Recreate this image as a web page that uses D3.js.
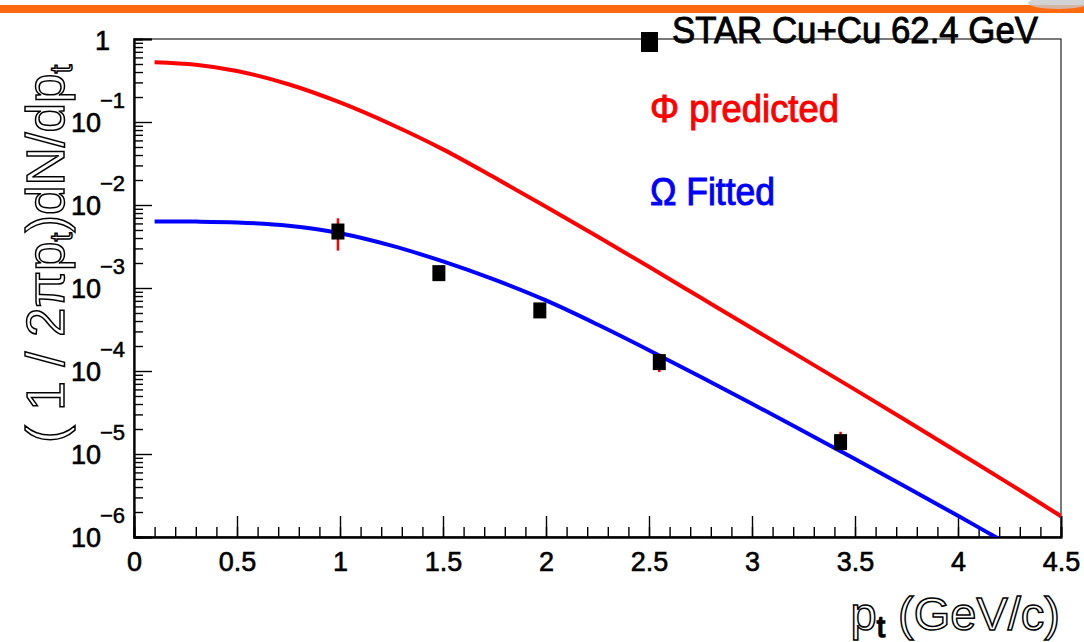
<!DOCTYPE html>
<html lang="en">
    <head>
        <meta charset="utf-8">
        <title>STAR Cu+Cu 62.4 GeV spectra</title>
        <script src="https://d3js.org/d3.v7.min.js"></script>
        <style type="text/css">
            body { margin: 0; background: #fff; }
            text { font-family: "Liberation Sans", Arial, sans-serif; }
        </style>
    </head>
    <body>
        <svg id="spectra" width="1084" height="642"></svg>
        <script>
            // phi predicted curve (red)
            var phiPt  = [0.1, 0.3, 0.5, 0.75, 1.0, 1.25, 1.5, 1.75, 2.0, 2.25, 2.5, 2.75, 3.0, 3.25, 3.5, 3.75, 4.0, 4.25, 4.5];
            var phiVal = [0.525, 0.490, 0.412, 0.285, 0.172, 0.0933, 0.0468, 0.0214, 9.55e-3, 4.17e-3, 1.80e-3,
                          7.67e-4, 3.27e-4, 1.40e-4, 5.96e-5, 2.51e-5, 1.05e-5, 4.37e-6, 1.78e-6];

            // omega fitted curve (blue)
            var omegaPt  = [0.1, 0.3, 0.5, 0.75, 1.0, 1.25, 1.5, 1.75, 2.0, 2.25, 2.5, 2.75, 3.0, 3.25, 3.5, 3.75, 4.0, 4.25];
            var omegaVal = [6.31e-3, 6.31e-3, 6.17e-3, 5.62e-3, 4.57e-3, 3.24e-3, 2.09e-3, 1.26e-3, 7.08e-4, 3.63e-4,
                            1.78e-4, 8.51e-5, 4.03e-5, 1.88e-5, 8.71e-6, 3.98e-6, 1.80e-6, 8.04e-7];

            // STAR data points with error bars
            var starPt    = [0.99, 1.48, 1.97, 2.55, 3.43];
            var starVal   = [4.79e-3, 1.51e-3, 5.37e-4, 1.28e-4, 1.39e-5];
            var starErrLo = [2.82e-3, 1.40e-3, 4.90e-4, 9.70e-5, 1.20e-5];
            var starErrHi = [6.92e-3, 1.62e-3, 5.80e-4, 1.45e-4, 1.85e-5];

            var xMajor = [0, 0.5, 1, 1.5, 2, 2.5, 3, 3.5, 4, 4.5];
            var xMinor = d3.range(0, 46).map(function(i) { return i / 10; });
            var yDecades = [1e-6, 1e-5, 1e-4, 1e-3, 1e-2, 1e-1, 1];
            var yExponents = ['6', '5', '4', '3', '2', '1', ''];

            var svg = d3.select('#spectra');
            var mLeft = 134, mRight = 1061, mTop = 39, mBottom = 537;

            var xScale = d3.scaleLinear().domain([0, 4.5]).range([mLeft, mRight]);
            var yScale = d3.scaleLog().domain([1e-6, 1]).range([mBottom, mTop]);

            //orange slide bar on top
            svg.append('rect')
               .attr('x', 0).attr('y', 5)
               .attr('width', 1084).attr('height', 8)
               .attr('fill', '#ff6a10');
            svg.append('ellipse')
               .attr('cx', 1058).attr('cy', 3)
               .attr('rx', 30).attr('ry', 6)
               .attr('fill', '#c8c8c8').attr('opacity', 0.8);

            //frame
            svg.append('rect')
               .attr('x', mLeft).attr('y', mTop)
               .attr('width', mRight - mLeft).attr('height', mBottom - mTop)
               .attr('fill', 'none')
               .attr('stroke', '#222')
               .attr('stroke-width', 1.2);

            //x axis, ticks pointing inwards
            var xMinorAxis = d3.axisBottom(xScale)
                               .tickValues(xMinor)
                               .tickSize(-10)
                               .tickFormat('');
            var xAxis = d3.axisBottom(xScale)
                          .tickValues(xMajor)
                          .tickSize(-21)
                          .tickPadding(15)
                          .tickFormat(function(d) { return d; });

            svg.append('g')
               .attr('transform', 'translate(0,' + mBottom + ')')
               .call(xMinorAxis);
            var gx = svg.append('g')
               .attr('transform', 'translate(0,' + mBottom + ')')
               .call(xAxis);
            gx.selectAll('text')
              .attr('font-size', 27)
              .attr('font-family', '"Liberation Sans", Arial, sans-serif')
              .attr('fill', '#000')
              .attr('stroke', '#000')
              .attr('stroke-width', 0.6);

            //y axis, log decades plus minor ticks
            var yMinor = [];
            yDecades.slice(0, -1).forEach(function(dec) {
                for (var k = 2; k <= 9; k++) yMinor.push(dec * k);
            });
            var yMinorAxis = d3.axisLeft(yScale)
                               .tickValues(yMinor)
                               .tickSize(-9)
                               .tickFormat('');
            var yAxis = d3.axisLeft(yScale)
                          .tickValues(yDecades)
                          .tickSize(-18)
                          .tickFormat('');

            svg.append('g')
               .attr('transform', 'translate(' + mLeft + ',0)')
               .call(yMinorAxis);
            svg.append('g')
               .attr('transform', 'translate(' + mLeft + ',0)')
               .call(yAxis);

            svg.selectAll('.domain')
               .attr('stroke', '#000')
               .attr('stroke-width', 1.8);
            svg.selectAll('.tick line')
               .attr('stroke', '#000')
               .attr('stroke-width', 1.4);

            //y tick labels as 10^n
            var yLabels = svg.append('g').attr('class', 'ylabels');
            yDecades.forEach(function(dec, i) {
                var ty = yScale(dec);
                if (dec === 1) {
                    yLabels.append('text')
                           .attr('x', 110).attr('y', ty + 11)
                           .attr('text-anchor', 'end')
                           .attr('font-size', 27)
                           .attr('stroke', '#000').attr('stroke-width', 0.6)
                           .text('1');
                    return;
                }
                yLabels.append('text')
                       .attr('x', 101).attr('y', ty + 10)
                       .attr('text-anchor', 'end')
                       .attr('font-size', 27)
                       .attr('stroke', '#000').attr('stroke-width', 0.6)
                       .text('10');
                yLabels.append('text')
                       .attr('x', 100).attr('y', ty - 14)
                       .attr('font-size', 22)
                       .attr('stroke', '#000').attr('stroke-width', 0.5)
                       .text('\u2212' + yExponents[i]);
            });

            //curves
            svg.append('clipPath')
               .attr('id', 'plotclip')
               .append('rect')
               .attr('x', mLeft).attr('y', mTop)
               .attr('width', mRight - mLeft).attr('height', mBottom - mTop);

            var line = d3.line()
                         .x(function(d) { return xScale(d[0]); })
                         .y(function(d) { return yScale(d[1]); })
                         .curve(d3.curveCatmullRom);

            var plot = svg.append('g').attr('clip-path', 'url(#plotclip)');

            plot.append('path')
                .datum(d3.zip(phiPt, phiVal))
                .attr('d', line)
                .attr('fill', 'none')
                .attr('stroke', '#ff0000')
                .attr('stroke-width', 4);

            plot.append('path')
                .datum(d3.zip(omegaPt, omegaVal))
                .attr('d', line)
                .attr('fill', 'none')
                .attr('stroke', '#0000ff')
                .attr('stroke-width', 4);

            //data points, error bars first
            var pts = starPt.map(function(p, i) {
                return { pt: p, val: starVal[i], lo: starErrLo[i], hi: starErrHi[i] };
            });

            plot.selectAll('line.err')
                .data(pts)
                .enter()
                .append('line')
                .attr('class', 'err')
                .attr('x1', function(d) { return xScale(d.pt); })
                .attr('x2', function(d) { return xScale(d.pt); })
                .attr('y1', function(d) { return yScale(d.lo); })
                .attr('y2', function(d) { return yScale(d.hi); })
                .attr('stroke', '#ff0000')
                .attr('stroke-width', 2.5);

            plot.selectAll('rect.pt')
                .data(pts)
                .enter()
                .append('rect')
                .attr('class', 'pt')
                .attr('x', function(d) { return xScale(d.pt) - 6.5; })
                .attr('y', function(d) { return yScale(d.val) - 8; })
                .attr('width', 13)
                .attr('height', 16)
                .attr('fill', '#000');

            //legend
            svg.append('rect')
               .attr('x', 641).attr('y', 32)
               .attr('width', 17).attr('height', 20)
               .attr('fill', '#000');
            svg.append('text')
               .attr('x', 672).attr('y', 43)
               .attr('font-size', 37)
               .attr('textLength', 366)
               .attr('lengthAdjust', 'spacingAndGlyphs')
               .attr('fill', '#000')
               .attr('stroke', '#000').attr('stroke-width', 0.9)
               .text('STAR Cu+Cu 62.4 GeV');
            svg.append('text')
               .attr('x', 650).attr('y', 122)
               .attr('font-size', 38)
               .attr('textLength', 189)
               .attr('lengthAdjust', 'spacingAndGlyphs')
               .attr('fill', '#ff0000')
               .attr('stroke', '#ff0000').attr('stroke-width', 1)
               .text('\u03A6 predicted');
            svg.append('text')
               .attr('x', 650).attr('y', 205)
               .attr('font-size', 38)
               .attr('textLength', 125)
               .attr('lengthAdjust', 'spacingAndGlyphs')
               .attr('fill', '#0000ff')
               .attr('stroke', '#0000ff').attr('stroke-width', 1)
               .text('\u03A9 Fitted');

            //axis titles, outlined like the original
            var xt = svg.append('text')
               .attr('x', 1060).attr('y', 630)
               .attr('text-anchor', 'end')
               .attr('font-size', 47)
               .attr('fill', '#fff')
               .attr('stroke', '#000')
               .attr('stroke-width', 1.5);
            xt.append('tspan').text('p');
            xt.append('tspan').attr('font-size', 30).attr('dy', 7).attr('fill', '#000').text('t');
            xt.append('tspan').attr('dy', -7).text(' (GeV/c)');

            var yt = svg.append('text')
               .attr('transform', 'translate(64,443) rotate(-90)')
               .attr('font-size', 53)
               .attr('fill', '#fff')
               .attr('stroke', '#000')
               .attr('stroke-width', 1.5);
            yt.append('tspan').text('( 1 / 2\u03C0p');
            yt.append('tspan').attr('font-size', 32).attr('dy', 8).text('t');
            yt.append('tspan').attr('dy', -8).text(')dN/dp');
            yt.append('tspan').attr('font-size', 32).attr('dy', 8).text('t');
        </script>
    </body>
</html>
